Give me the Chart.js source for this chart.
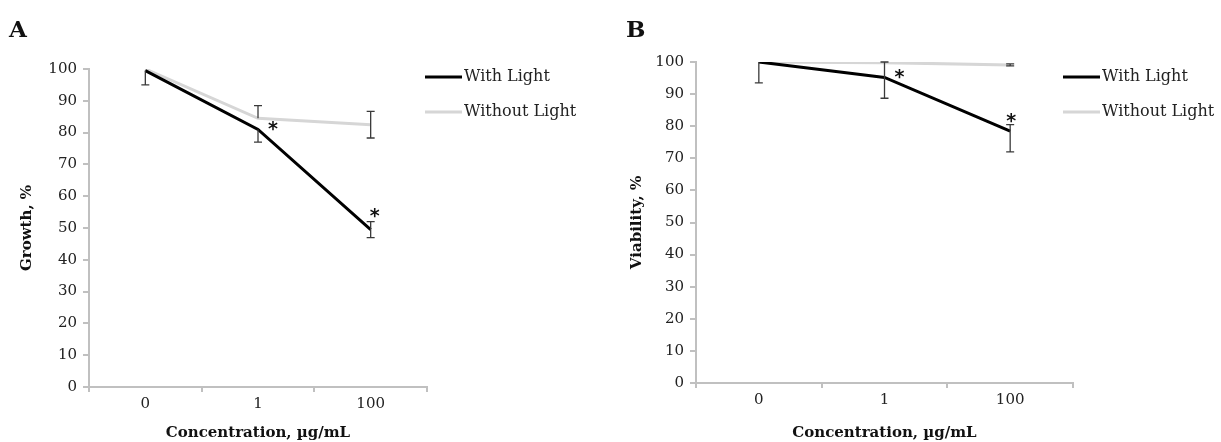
<!DOCTYPE html>
<html>
<head>
<meta charset="utf-8">
<script src="https://cdn.jsdelivr.net/npm/chart.js@4"></script>
<style>
  body { margin: 0; background: #fff; }
  .panel { position: absolute; top: 0; height: 442px; }
  #panelA { left: 0; width: 610px; }
  #panelB { left: 610px; width: 611px; }
</style>
</head>
<body>
<div class="panel" id="panelA"><canvas id="chartA"></canvas></div>
<div class="panel" id="panelB"><canvas id="chartB"></canvas></div>
<script>
const concentrations = ['0', '1', '100'];
const seriesNames = ['With Light', 'Without Light'];

// panel A - growth
const growthWithLight = [99.5, 81, 49.5];
const growthWithoutLight = [100, 84.5, 82.5];
const growthErrUpWith = [0, 0, 2.5];
const growthErrDownWith = [4.5, 4, 2.5];
const growthErrUpWithout = [0, 4, 4.2];
const growthErrDownWithout = [0, 0, 4.2];
const growthStars = [null, 82.5, 55];

// panel B - viability
const viabWithLight = [100, 95.2, 78.5];
const viabWithoutLight = [100, 99.8, 99.1];
const viabErrUpWith = [0, 4.8, 2];
const viabErrDownWith = [6.5, 6.5, 6.5];
const viabErrUpWithout = [0, 0, 0.3];
const viabErrDownWithout = [0, 0, 0.3];
const viabStars = [null, 96.5, 83];

const serif = "'DejaVu Serif', serif";
const axisGray = '#c0c0c0';

// error bars, asterisks, legend and panel letter
const extrasPlugin = {
  id: 'extras',
  afterDatasetsDraw(chart, args, opts) {
    const ctx = chart.ctx;
    const x = chart.scales.x, y = chart.scales.y;
    ctx.save();
    ctx.strokeStyle = '#3a3a3a';
    ctx.lineWidth = 1.3;
    opts.errors.forEach((err, di) => {
      const vals = chart.data.datasets[di].data;
      vals.forEach((v, i) => {
        const up = err.up[i], down = err.down[i];
        if (!up && !down) return;
        const px = x.getPixelForValue(i);
        const top = y.getPixelForValue(Math.min(v + up, 100));
        const bot = y.getPixelForValue(v - down);
        ctx.beginPath();
        ctx.moveTo(px, top); ctx.lineTo(px, bot);
        if (up) { ctx.moveTo(px - 4, top); ctx.lineTo(px + 4, top); }
        if (down) { ctx.moveTo(px - 4, bot); ctx.lineTo(px + 4, bot); }
        ctx.stroke();
      });
    });
    // asterisks
    ctx.fillStyle = '#111';
    ctx.font = "bold 19px 'DejaVu Sans', sans-serif";
    ctx.textAlign = 'center';
    ctx.textBaseline = 'middle';
    opts.stars.forEach((v, i) => {
      if (v === null) return;
      const px = x.getPixelForValue(i) + opts.starShift[i];
      ctx.fillText('*', px, y.getPixelForValue(v) + 5);
    });
    // legend
    ctx.font = '16px ' + serif;
    ctx.textAlign = 'left';
    ctx.textBaseline = 'middle';
    chart.data.datasets.forEach((ds, di) => {
      const ly = opts.legendY[di];
      const lx = chart.chartArea.right + opts.legendShift;
      ctx.strokeStyle = ds.borderColor;
      ctx.lineWidth = 3;
      ctx.beginPath();
      ctx.moveTo(lx, ly); ctx.lineTo(lx + 37, ly);
      ctx.stroke();
      ctx.fillStyle = '#222';
      ctx.fillText(ds.label, lx + 39, ly);
    });
    // panel letter
    ctx.font = "bold 23px " + serif;
    ctx.fillStyle = '#111';
    ctx.textBaseline = 'alphabetic';
    ctx.fillText(opts.letter, opts.letterX, 37);
    ctx.restore();
  }
};

function makeChart(id, cfg) {
  return new Chart(document.getElementById(id), {
    type: 'line',
    data: {
      labels: concentrations,
      datasets: [
        { label: seriesNames[0], data: cfg.withLight, borderColor: '#000', borderWidth: 3 },
        { label: seriesNames[1], data: cfg.withoutLight, borderColor: '#d6d6d6', borderWidth: 3 }
      ]
    },
    options: {
      responsive: true,
      maintainAspectRatio: false,
      animation: false,
      elements: { point: { radius: 0 }, line: { tension: 0 } },
      layout: { padding: { top: cfg.top, right: cfg.right, left: 0, bottom: 0 } },
      plugins: {
        legend: { display: false },
        tooltip: { enabled: false },
        extras: cfg.extras
      },
      scales: {
        x: {
          offset: true,
          grid: { offset: true, drawOnChartArea: false, tickLength: 5, color: axisGray, lineWidth: 2 },
          border: { color: axisGray, width: 2 },
          ticks: { font: { family: serif, size: 15 }, color: '#222', padding: 3 },
          title: { display: true, text: 'Concentration, µg/mL', font: { family: serif, size: 15, weight: 'bold' }, color: '#111', padding: { top: 0, bottom: 0 } },
          afterFit(s) { s.height = cfg.xHeight; }
        },
        y: {
          min: 0, max: 100,
          ticks: { stepSize: 10, font: { family: serif, size: 15 }, color: '#222', padding: 6 },
          grid: { drawOnChartArea: false, tickLength: 6, color: axisGray, lineWidth: 2 },
          border: { color: axisGray, width: 2 },
          title: { display: true, text: cfg.yTitle, font: { family: serif, size: 15, weight: 'bold' }, color: '#111', padding: { top: 18, bottom: 0 } },
          afterFit(s) { s.width = cfg.yWidth; }
        }
      }
    },
    plugins: [extrasPlugin]
  });
}

makeChart('chartA', {
  withLight: growthWithLight, withoutLight: growthWithoutLight,
  yTitle: 'Growth, %', top: 69, right: 183, xHeight: 55, yWidth: 89,
  extras: {
    errors: [
      { up: growthErrUpWith, down: growthErrDownWith },
      { up: growthErrUpWithout, down: growthErrDownWithout }
    ],
    stars: growthStars, starShift: [0, 15, 4],
    legendY: [77, 112], legendShift: -2, letter: 'A', letterX: 9
  }
});

makeChart('chartB', {
  withLight: viabWithLight, withoutLight: viabWithoutLight,
  yTitle: 'Viability, %', top: 62, right: 148, xHeight: 59, yWidth: 86,
  extras: {
    errors: [
      { up: viabErrUpWith, down: viabErrDownWith },
      { up: viabErrUpWithout, down: viabErrDownWithout }
    ],
    stars: viabStars, starShift: [0, 15, 1],
    legendY: [77, 112], legendShift: -10, letter: 'B', letterX: 16
  }
});
</script>
</body>
</html>
